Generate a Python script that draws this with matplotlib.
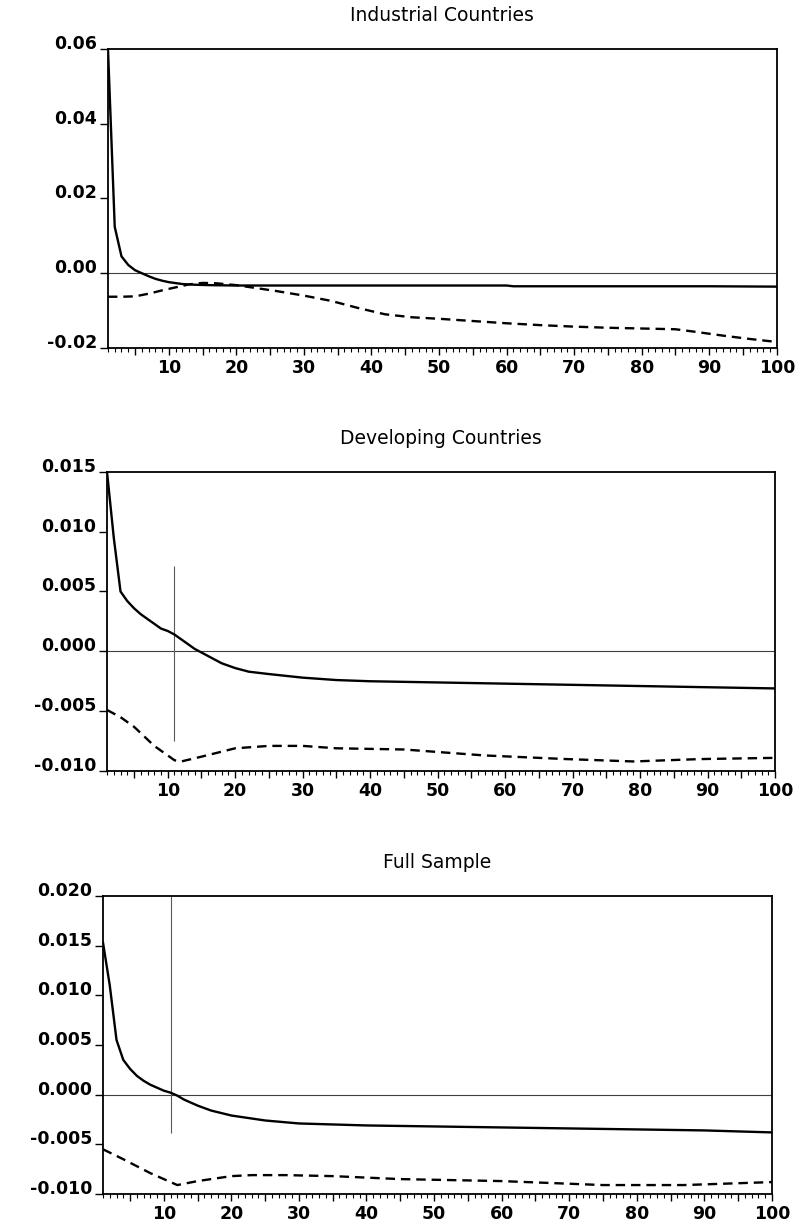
import numpy as np
import matplotlib
matplotlib.use("Agg")
import matplotlib.pyplot as plt
from matplotlib.ticker import MultipleLocator, FuncFormatter, FormatStrFormatter

################################################################################
# Data (period, response)
################################################################################

# Industrial Countries
ind_solid_x = [1, 2, 3, 4, 5, 6, 7, 8, 9, 10, 12, 14, 16, 20, 30, 40, 50, 60, 61, 70, 80, 90, 100]
ind_solid_y = [0.060, 0.0124, 0.0045, 0.0022, 0.0008, 0.0000, -0.0008, -0.0015, -0.0020, -0.0024,
               -0.0029, -0.0031, -0.0032, -0.0033, -0.0033, -0.0033, -0.0033, -0.0033, -0.0035,
               -0.0035, -0.0035, -0.0035, -0.0036]
ind_dash_x = [1, 3, 5, 7, 9, 11, 13, 15, 17, 20, 23, 26, 30, 34, 38, 42, 46, 50, 55, 60, 65, 70,
              75, 80, 85, 88, 92, 96, 100]
ind_dash_y = [-0.0063, -0.0063, -0.0062, -0.0055, -0.0046, -0.0038, -0.0030, -0.0026, -0.0027,
              -0.0032, -0.0040, -0.0048, -0.0060, -0.0074, -0.0093, -0.0110, -0.0118, -0.0122,
              -0.0128, -0.0134, -0.0139, -0.0143, -0.0146, -0.0148, -0.0150, -0.0157, -0.0167,
              -0.0176, -0.0184]

# Developing Countries
dev_solid_x = [1, 2, 3, 4, 5, 6, 7, 8, 9, 10, 11, 12, 13, 14, 15, 16, 17, 18, 20, 22, 25, 30, 35,
               40, 50, 60, 70, 80, 90, 100]
dev_solid_y = [0.0150, 0.0095, 0.0050, 0.0042, 0.0036, 0.0031, 0.0027, 0.0023, 0.0019, 0.0017,
               0.0014, 0.0010, 0.0006, 0.0002, -0.0001, -0.0004, -0.0007, -0.0010, -0.0014,
               -0.0017, -0.0019, -0.0022, -0.0024, -0.0025, -0.0026, -0.0027, -0.0028, -0.0029,
               -0.0030, -0.0031]
dev_dash_x = [1, 3, 5, 8, 11, 12, 15, 20, 25, 30, 35, 45, 57, 69, 79, 89, 100]
dev_dash_y = [-0.0049, -0.0055, -0.0063, -0.0079, -0.0091, -0.0092, -0.0088, -0.0081, -0.0079,
              -0.0079, -0.0081, -0.0082, -0.0087, -0.0090, -0.0092, -0.0090, -0.0089]

# Full Sample
full_solid_x = [1, 2, 3, 4, 5, 6, 7, 8, 9, 10, 11, 12, 13, 14, 15, 17, 20, 25, 30, 35, 40, 50, 60,
                70, 80, 90, 100]
full_solid_y = [0.0153, 0.0110, 0.0055, 0.0035, 0.0026, 0.0019, 0.0014, 0.0010, 0.0007, 0.0004,
                0.0002, -0.0001, -0.0005, -0.0008, -0.0011, -0.0016, -0.0021, -0.0026, -0.0029,
                -0.0030, -0.0031, -0.0032, -0.0033, -0.0034, -0.0035, -0.0036, -0.0038]
full_dash_x = [1, 4, 8, 12, 15, 20, 23, 28, 35, 45, 60, 75, 87, 100]
full_dash_y = [-0.0055, -0.0065, -0.0079, -0.0091, -0.0087, -0.0082, -0.0081, -0.0081, -0.0082,
               -0.0085, -0.0087, -0.0091, -0.0091, -0.0088]

titles = ["Industrial Countries", "Developing Countries", "Full Sample"]
y_limits = [(-0.02, 0.06), (-0.010, 0.015), (-0.010, 0.020)]
y_steps = [0.02, 0.005, 0.005]
y_formats = ["%.2f", "%.3f", "%.3f"]

# thin vertical cursor line at period 11 (panels 2 and 3)
cursor_x = 11
cursor_ranges = [None, (-0.0075, 0.0071), (-0.0039, 0.020)]

################################################################################
# Plotting
################################################################################

plt.rcParams["font.family"] = "DejaVu Sans"

fig = plt.figure(figsize = (8.01, 12.26), dpi = 100)

# axes rectangles in figure fractions
rects = [[0.1348, 0.7162, 0.835, 0.2439],
         [0.1336, 0.3711, 0.834, 0.2441],
         [0.1286, 0.0261, 0.835, 0.2431]]

series = [(ind_solid_x, ind_solid_y, ind_dash_x, ind_dash_y),
          (dev_solid_x, dev_solid_y, dev_dash_x, dev_dash_y),
          (full_solid_x, full_solid_y, full_dash_x, full_dash_y)]

for i in range(3):
    ax = fig.add_axes(rects[i])
    sx, sy, dx, dy = series[i]

    ax.axhline(0, color = "0.25", linewidth = 0.8, zorder = 1)
    if cursor_ranges[i] is not None:
        lo, hi = cursor_ranges[i]
        ax.vlines(cursor_x, lo, hi, color = "0.35", linewidth = 0.8, zorder = 1)

    ax.plot(sx, sy, color = "black", linewidth = 1.7, zorder = 3)
    ax.plot(dx, dy, color = "black", linewidth = 1.7, dashes = (4, 2.5), zorder = 3)

    ax.set_xlim(1, 100)
    ax.set_ylim(*y_limits[i])

    ax.xaxis.set_major_locator(MultipleLocator(5))
    ax.xaxis.set_minor_locator(MultipleLocator(1))
    ax.xaxis.set_major_formatter(FuncFormatter(lambda v, p: "%d" % v if int(round(v)) % 10 == 0 else ""))
    lo_y, hi_y = y_limits[i]
    ax.set_yticks(np.arange(lo_y, hi_y + y_steps[i] / 2, y_steps[i]))
    ax.yaxis.set_major_formatter(FormatStrFormatter(y_formats[i]))

    ax.tick_params(axis = "x", which = "major", direction = "out", length = 5, width = 1,
                   labelsize = 12.5, pad = 3)
    ax.tick_params(axis = "x", which = "minor", direction = "out", length = 3, width = 0.8)
    ax.tick_params(axis = "y", which = "major", direction = "out", length = 6, width = 1,
                   labelsize = 12.5, pad = 2)
    for lab in ax.get_xticklabels() + ax.get_yticklabels():
        lab.set_fontweight("bold")
    for lab in ax.get_yticklabels():
        lab.set_verticalalignment("baseline")

    for sp in ax.spines.values():
        sp.set_linewidth(1.3)

    ax.set_title(titles[i], fontsize = 13.5, pad = 20)

fig.savefig("out.png", dpi = 100)
plt.close()
